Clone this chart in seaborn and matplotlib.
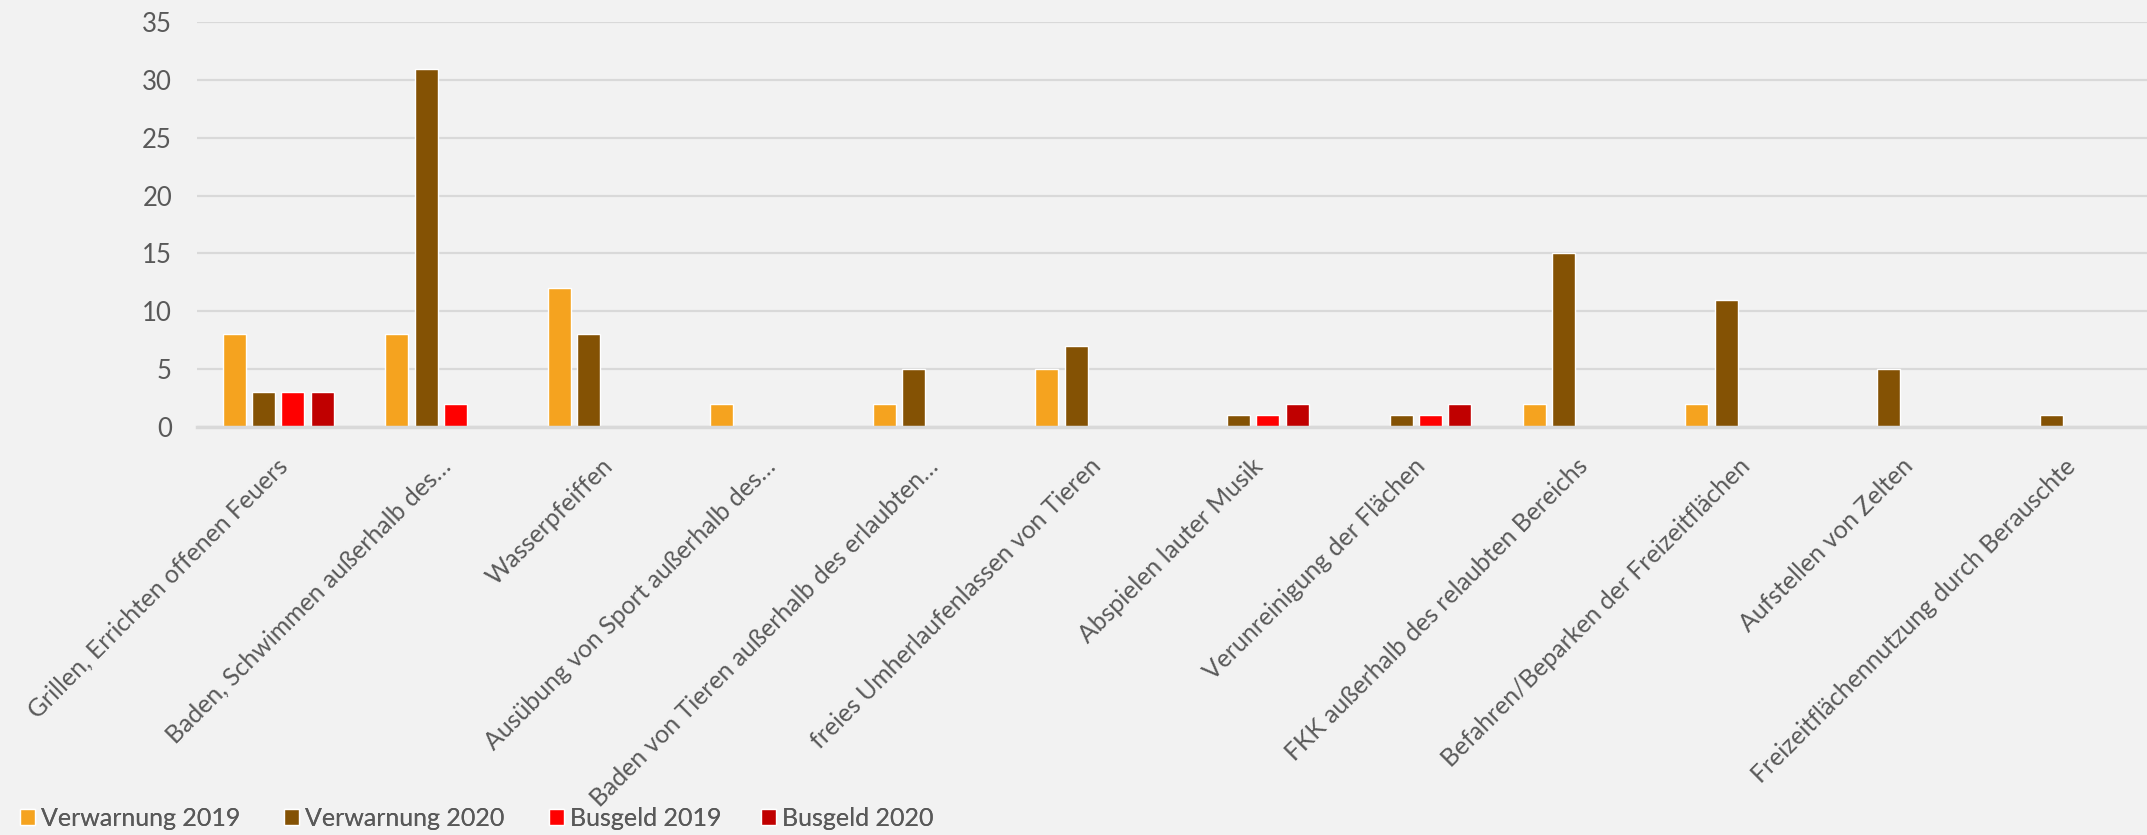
import matplotlib
matplotlib.use("Agg")
import matplotlib.pyplot as plt
import matplotlib.transforms as mtransforms
import seaborn as sns
import pandas as pd

categories = [
    "Grillen, Errichten offenen Feuers",
    "Baden, Schwimmen außerhalb des…",
    "Wasserpfeiffen",
    "Ausübung von Sport außerhalb des…",
    "Baden von Tieren außerhalb des erlaubten…",
    "freies Umherlaufenlassen von Tieren",
    "Abspielen lauter Musik",
    "Verunreinigung der Flächen",
    "FKK außerhalb des relaubten Bereichs",
    "Befahren/Beparken der Freizeitflächen",
    "Aufstellen von Zelten",
    "Freizeitflächennutzung durch Berauschte",
]
series_names = ["Verwarnung 2019", "Verwarnung 2020", "Busgeld 2019", "Busgeld 2020"]
verwarnung_2019 = [8, 8, 12, 2, 2, 5, 0, 0, 2, 2, 0, 0]
verwarnung_2020 = [3, 31, 8, 0, 5, 7, 1, 1, 15, 11, 5, 1]
busgeld_2019 = [3, 2, 0, 0, 0, 0, 1, 1, 0, 0, 0, 0]
busgeld_2020 = [3, 0, 0, 0, 0, 0, 2, 2, 0, 0, 0, 0]
colors = ["#F5A31F", "#845204", "#FF0000", "#C00000"]

rows = []
for name, vals in zip(series_names, [verwarnung_2019, verwarnung_2020, busgeld_2019, busgeld_2020]):
    for c, v in zip(categories, vals):
        rows.append({"Kategorie": c, "Serie": name, "Wert": v})
df = pd.DataFrame(rows)

sns.set_theme(style="white")
plt.rcParams["font.family"] = ["Lato", "DejaVu Sans"]
text_color = "#595959"
bg = "#F2F2F2"

W, H = 2147, 835
fig = plt.figure(figsize=(W / 100, H / 100), dpi=100, facecolor=bg)
ax = fig.add_axes([197 / W, 1 - 426.7 / H, 1 - 197 / W, (426.7 - 22.3) / H])
ax.set_facecolor(bg)

sns.barplot(data=df, x="Kategorie", y="Wert", hue="Serie", order=categories,
            hue_order=series_names, palette=colors, width=0.72, gap=0.21,
            saturation=1, ax=ax, legend=True)

ax.set_ylim(0, 35)
ax.set_xlim(-0.5, len(categories) - 0.5)
ax.set_yticks(range(0, 36, 5))
ax.yaxis.grid(True, color="#D9D9D9", linewidth=1.6)
ax.set_axisbelow(True)
for s in ["top", "right", "left"]:
    ax.spines[s].set_visible(False)
ax.spines["bottom"].set_color("#D9D9D9")
ax.spines["bottom"].set_linewidth(2.5)
ax.set_xlabel("")
ax.set_ylabel("")
ax.tick_params(axis="y", length=0, pad=18, labelsize=18.5, labelcolor=text_color)
ax.tick_params(axis="x", length=0, pad=20, labelsize=17.8, labelcolor=text_color)

offset = mtransforms.ScaledTranslation(-2 / 100, 0, fig.dpi_scale_trans)
for lbl in ax.get_xticklabels():
    lbl.set_rotation(45)
    lbl.set_ha("right")
    lbl.set_va("top")
    lbl.set_rotation_mode("anchor")
    lbl.set_transform(lbl.get_transform() + offset)

handles, labels = ax.get_legend_handles_labels()
ax.get_legend().remove()
legend_x = [20, 284, 549, 761]
for h, l, x in zip(handles, labels, legend_x):
    lg = fig.legend([h], [l], loc="center left", bbox_to_anchor=(x / W, 17 / H),
                    frameon=False, fontsize=18, handlelength=0.6, handleheight=0.6,
                    handletextpad=0.25, borderpad=0, borderaxespad=0,
                    labelcolor=text_color)
    fig.add_artist(lg)

fig.savefig("out.png", dpi=100, facecolor=bg)
